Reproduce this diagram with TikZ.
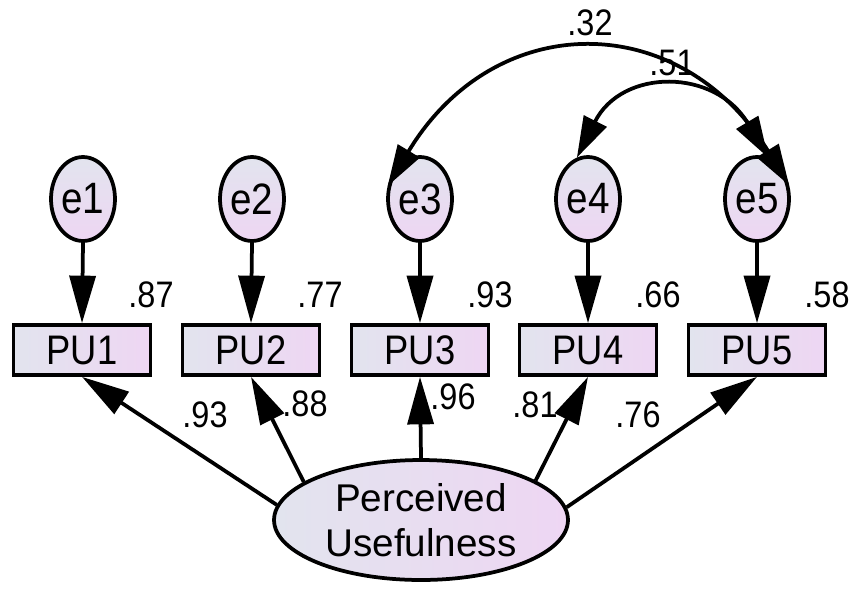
\documentclass[tikz,border=0pt]{standalone}
\usepackage{fontspec}
\setmainfont{Liberation Sans}
\newfontfamily\narrowsans{Liberation Sans}[FakeStretch=0.88]
\usetikzlibrary{shapes.geometric,arrows.meta}
\definecolor{shadeA}{RGB}{226,228,238}
\definecolor{shadeB}{RGB}{238,214,243}
\tikzset{
  errvar/.style={ellipse, draw, line width=0.075cm, minimum width=1.28cm, minimum height=1.68cm,
    inner sep=0pt, top color=shadeA, bottom color=shadeB, font=\narrowsans\fontsize{25}{28}\selectfont},
  item/.style={rectangle, draw, line width=0.075cm, minimum width=2.74cm, minimum height=1.00cm,
    inner sep=0pt, left color=shadeA, right color=shadeB, font=\narrowsans\fontsize{23.5}{26}\selectfont},
  factor/.style={ellipse, draw, line width=0.075cm, minimum width=5.88cm, minimum height=2.40cm,
    inner sep=0pt, left color=shadeA, right color=shadeB, align=center,
    font=\fontsize{22}{25.5}\selectfont},
  coef/.style={inner sep=0pt, font=\narrowsans\fontsize{21}{24}\selectfont},
  path/.style={line width=0.075cm, -{Triangle[length=0.95cm,width=0.52cm]}},
  cov/.style={line width=0.075cm, {Triangle[length=0.82cm,width=0.5cm]}-{Triangle[length=0.82cm,width=0.5cm]}},
}
\begin{document}
\begin{tikzpicture}[x=0.02cm,y=-0.02cm]
\useasboundingbox (0,0) rectangle (851,589);

% error terms
\node[errvar] (e1) at (83,199) {e1};
\node[errvar] (e2) at (252,199) {e2};
\node[errvar] (e3) at (420,199) {e3};
\node[errvar] (e4) at (588,199) {e4};
\node[errvar] (e5) at (757,199) {e5};

% observed indicators
\node[item] (p1) at (82,350) {PU1};
\node[item] (p2) at (251,350) {PU2};
\node[item] (p3) at (420,350) {PU3};
\node[item] (p4) at (588,350) {PU4};
\node[item] (p5) at (757,350) {PU5};

% latent factor
\node[factor] (pu) at (421,520) {Perceived\\Usefulness};

% error paths
\foreach \i in {1,...,5} \draw[path] (e\i.south) -- (p\i.north);

% loadings
\draw[path] (pu.174) -- (p1.south);
\draw[path] (pu.162) -- (p2.south);
\draw[path] (pu.north) -- (p3.south);
\draw[path] (pu.19) -- (p4.south);
\draw[path] (pu.5) -- (p5.south);

% error covariances
\draw[cov] (e5.23) .. controls (680,8) and (495,8) .. (e3.158);
\draw[cov] (e5.75) .. controls (715,68) and (622,68) .. (e4.105);

% squared multiple correlations
\node[coef] (r1) at (151,295) {.87};
\node[coef] (r2) at (320,295) {.77};
\node[coef] (r3) at (490,295) {.93};
\node[coef] (r4) at (658,295) {.66};
\node[coef] (r5) at (827,295) {.58};

% standardized loadings
\node[coef] (l1) at (205,415) {.93};
\node[coef] (l2) at (305,404) {.88};
\node[coef] (l3) at (453,397) {.96};
\node[coef] (l4) at (535,405) {.81};
\node[coef] (l5) at (638,415) {.76};

% correlations
\node[coef] (c1) at (590,23) {.32};
\node[coef] (c2) at (672,63) {.51};
\end{tikzpicture}
\end{document}
